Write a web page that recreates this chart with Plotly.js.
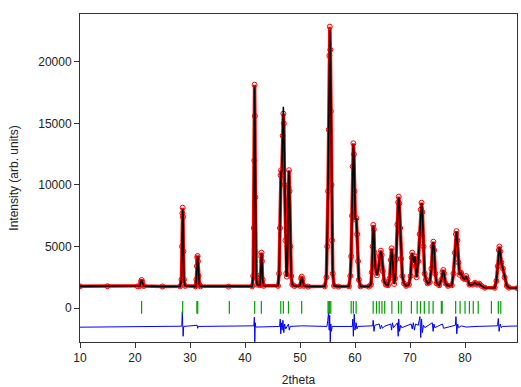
<!DOCTYPE html>
<html><head><meta charset="utf-8">
<script src="https://cdn.plot.ly/plotly-3.0.1.min.js"></script>
<style>html,body{margin:0;padding:0;background:#fff}#chart{width:521px;height:387px}</style>
</head><body><div id="chart"></div>
<script>
// Profile (2theta, observed, calculated)
const twoTheta = [10.0,15.0,20.5,20.9,21.1,21.2,21.35,21.6,25.0,28.2,28.45,28.55,28.62,28.67,28.72,28.8,28.9,29.1,31.0,31.15,31.25,31.32,31.38,31.45,31.55,31.7,31.9,37.0,41.3,41.5,41.6,41.68,41.74,41.8,41.88,41.95,42.05,42.2,42.7,42.85,42.95,43.0,43.08,43.2,43.4,46.0,46.2,46.35,46.47,46.55,46.7,46.85,46.97,47.05,47.2,47.35,47.5,47.6,47.75,47.9,48.0,48.1,48.25,48.4,48.6,49.0,50.0,50.2,50.32,50.45,50.7,51.5,54.5,54.8,54.95,55.1,55.22,55.33,55.42,55.52,55.62,55.72,55.82,55.95,56.2,57.0,58.9,59.15,59.3,59.45,59.58,59.7,59.8,59.9,60.05,60.25,60.4,60.55,60.7,61.0,62.5,62.9,63.05,63.2,63.32,63.42,63.55,63.7,64.0,64.3,64.5,64.7,64.85,65.05,65.3,65.6,66.0,66.3,66.5,66.65,66.8,66.95,67.1,67.3,67.5,67.7,67.85,67.95,68.05,68.2,68.4,68.6,68.9,69.3,69.8,70.1,70.3,70.4,70.55,70.7,70.9,71.05,71.2,71.5,71.75,71.95,72.1,72.25,72.45,72.65,72.9,73.2,73.6,73.9,74.1,74.25,74.4,74.6,74.85,75.3,75.7,75.9,76.05,76.2,76.45,76.9,77.6,77.9,78.15,78.35,78.45,78.6,78.8,79.0,79.3,79.6,79.9,80.2,80.45,80.8,81.4,81.8,82.2,82.6,83.0,83.6,85.4,85.7,85.95,86.15,86.25,86.4,86.6,86.9,87.2,87.6,88.0,89.5];
const yObs = [1760,1770,1760,1800,2150,2280,2100,1790,1750,1760,2300,5000,7700,8150,7400,4600,2300,1800,1760,2300,3400,4100,4230,3800,2600,1900,1760,1740,1760,2600,6500,12000,18150,15600,9000,4500,2500,1900,1850,2700,4200,4500,3800,2300,1800,1800,2800,6500,10800,11200,11000,14000,15800,15000,10000,5500,2800,2550,5000,9800,11200,9500,5000,2600,1900,1780,1800,2400,2550,2300,1800,1740,1760,2500,5000,9500,14500,20500,22870,21000,16000,10000,5500,2800,1800,1740,1760,2600,4200,7500,11500,13390,12500,9500,7200,7300,6000,3800,2300,1760,1740,1900,2900,5000,6750,6400,4500,3300,2650,3300,4200,4660,4300,3000,2200,1900,1850,2400,3900,4850,4200,2800,1950,2400,4000,6800,8600,9050,8500,6500,4000,2600,2000,1800,1900,2600,4100,4500,4000,3700,4200,3400,2500,3800,6000,8000,8560,7800,5000,2800,2300,2000,2100,3200,5000,5390,4700,2800,2000,1850,2300,2900,3090,2800,2000,1800,1850,2800,4500,6000,6250,5500,3700,2700,2850,2450,2350,2600,2300,1900,1900,2050,1900,1980,1800,1650,1640,2200,3400,4700,5000,4600,3700,3200,2500,1800,1650,1620];
const yCalc = [1760,1770,1760,1800,2150,2280,2100,1790,1750,1760,2300,5100,7800,8050,7400,4600,2300,1800,1760,2300,3400,4100,4200,3800,2600,1900,1760,1740,1760,2600,6600,12200,18000,15600,9000,4500,2500,1900,1850,2700,4200,4450,3800,2300,1800,1800,2800,6600,10900,11100,11100,14200,16350,15000,10000,5500,2800,2550,5000,9900,11150,9500,5000,2600,1900,1780,1800,2400,2500,2300,1800,1740,1760,2500,5000,9600,14600,20600,22600,21000,16000,10000,5500,2800,1800,1740,1760,2600,4200,7600,11600,13300,12500,9500,7200,7300,6000,3800,2300,1760,1740,1900,2900,5000,6650,6400,4500,3300,2650,3300,4200,4600,4300,3000,2200,1900,1850,2400,3900,4800,4200,2800,1950,2400,4000,6900,8600,8950,8500,6500,4000,2600,2000,1800,1900,2600,4100,4450,4000,3700,4200,3400,2500,3800,6000,8050,8500,7800,5000,2800,2300,2000,2100,3200,5000,5350,4700,2800,2000,1850,2300,2900,3050,2800,2000,1800,1850,2800,4500,6000,6200,5500,3700,2700,2850,2450,2350,2600,2300,1900,1900,2050,1900,1980,1800,1650,1640,2200,3400,4700,4950,4600,3700,3200,2500,1800,1650,1620];
// Difference curve (offset)
const diffX = [10,20,28.5,28.6,28.68,28.75,28.85,31.3,31.4,31.5,41.6,41.7,41.78,41.86,41.95,46.3,46.4,46.5,46.6,46.75,46.9,47.05,47.2,47.4,47.9,48.05,48.2,50.3,54.9,55.05,55.2,55.3,55.4,55.5,55.6,55.7,55.85,59.5,59.6,59.7,59.85,60.0,60.2,60.35,60.5,63.2,63.3,63.45,63.6,64.4,64.6,64.8,65.0,65.3,66.5,66.65,66.8,67.0,67.7,67.85,67.95,68.1,68.3,68.5,69.0,70.2,70.4,70.6,70.8,71.0,71.5,71.8,71.95,72.1,72.25,72.45,72.7,74.05,74.2,74.35,74.5,75.9,76.1,78.25,78.35,78.5,78.65,78.85,79.3,80.2,82,85.9,86.05,86.2,86.4,86.6,86.8,89.5];
const diffY = [-1560,-1500,-1480,-300,-1500,-2300,-1500,-1400,-1650,-1500,-1450,-750,-2750,-1200,-1550,-1500,-900,-2100,-1200,-1800,-1000,-2000,-1300,-1700,-1300,-1800,-1500,-1450,-1500,-1000,-300,-1800,-600,-2750,-1300,-1900,-1500,-1500,-900,-2300,-500,-1800,-1200,-1700,-1500,-1450,-1000,-1900,-1400,-1300,-1700,-1400,-1650,-1500,-1300,-1800,-1200,-1600,-1200,-2300,-900,-1900,-1400,-1600,-1500,-1300,-1700,-1200,-1800,-1300,-1400,-700,-2400,-900,-2000,-1400,-1600,-1200,-1900,-1300,-1600,-1300,-1650,-1400,-700,-2100,-1300,-1600,-1450,-1550,-1500,-1450,-850,-1900,-1300,-1600,-1500,-1460];
// Bragg reflection positions
const braggPos = [21.2,28.67,31.25,31.4,37.15,41.76,42.97,46.5,46.97,47.9,50.3,55.1,55.25,55.4,55.6,59.3,59.7,60.2,63.3,63.9,64.4,64.9,65.4,66.7,67.9,68.4,70.25,71.3,71.9,72.6,73.45,74.2,75.7,75.85,78.3,79.1,80.0,80.8,81.5,82.4,84.8,86.05,86.5];
const braggLevel = 50;
const xTicks = [10,20,30,40,50,60,70,80];
const yTicks = [0,5000,10000,15000,20000];
const yTickText = ['0','5000','10000','15000','20000'];

const font = 'Liberation Sans, Arial, sans-serif';
const traces = [
  {x: twoTheta, y: yObs, type: 'scatter', mode: 'lines+markers',
   line: {color: '#ff0000', width: 3.5},
   marker: {symbol: 'circle-open', size: 5, color: '#ff0000', line: {width: 1}},
   hoverinfo: 'skip', showlegend: false},
  {x: twoTheta, y: yCalc, type: 'scatter', mode: 'lines',
   line: {color: '#000000', width: 1.5}, hoverinfo: 'skip', showlegend: false},
  {x: diffX, y: diffY, type: 'scatter', mode: 'lines',
   line: {color: '#0000ff', width: 1}, hoverinfo: 'skip', showlegend: false},
  {x: braggPos, y: braggPos.map(() => braggLevel), type: 'scatter', mode: 'markers',
   marker: {symbol: 'line-ns-open', size: 9, color: '#00a000', line: {width: 1.2, color: '#00a000'}},
   hoverinfo: 'skip', showlegend: false}
];
const layout = {
  width: 521, height: 387,
  margin: {l: 80, r: 4, t: 14, b: 45},
  paper_bgcolor: '#ffffff', plot_bgcolor: '#ffffff',
  font: {family: font, size: 12, color: '#222'},
  xaxis: {range: [10, 89.45], tickvals: xTicks, ticks: 'outside', ticklen: 5, tickwidth: 1,
          tickcolor: '#333', showline: true, mirror: true, linecolor: '#333', linewidth: 1,
          showgrid: false, zeroline: false, tickfont: {family: font, size: 12, color: '#222'},
          title: {text: '2theta', font: {family: font, size: 12, color: '#222'}, standoff: 12}},
  yaxis: {range: [-2764, 23900], tickvals: yTicks, ticktext: yTickText, ticks: 'outside', ticklen: 5, tickwidth: 1,
          tickcolor: '#333', showline: true, mirror: true, linecolor: '#333', linewidth: 1,
          showgrid: false, zeroline: false, tickfont: {family: font, size: 12, color: '#222'},
          title: {text: 'Intensity (arb. units)', font: {family: font, size: 12, color: '#222'}, standoff: 17}}
};
Plotly.newPlot('chart', traces, layout, {displayModeBar: false, staticPlot: true});
</script></body></html>
